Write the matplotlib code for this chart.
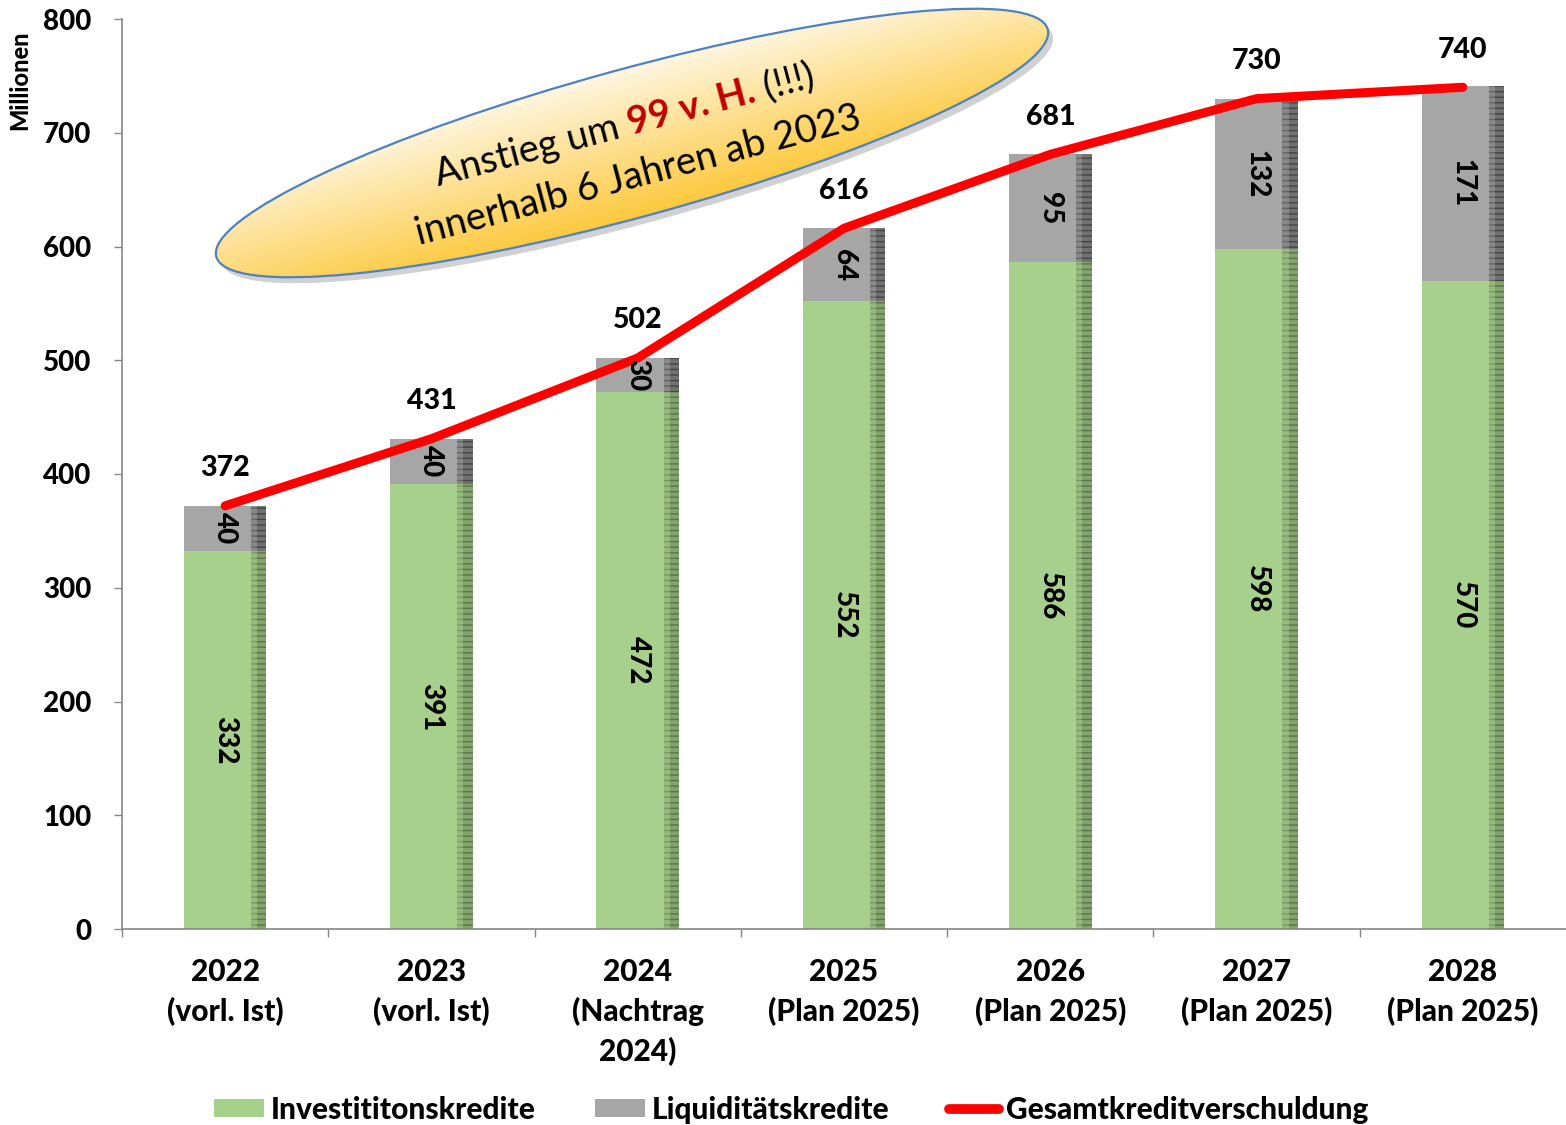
import numpy as np
from matplotlib import pyplot as plt
from matplotlib.patches import Ellipse, Patch
from matplotlib.lines import Line2D

# data (Millionen)
years = ["2022\n(vorl. Ist)", "2023\n(vorl. Ist)", "2024\n(Nachtrag\n2024)", "2025\n(Plan 2025)",
         "2026\n(Plan 2025)", "2027\n(Plan 2025)", "2028\n(Plan 2025)"]
invest = [332, 391, 472, 552, 586, 598, 570]
liquid = [40, 40, 30, 64, 95, 132, 171]
total = [372, 431, 502, 616, 681, 730, 740]

FONT = "Lato"
WGT = "black"
plt.rcParams["font.family"] = [FONT, "DejaVu Sans"]
plt.rcParams["font.weight"] = WGT

GREEN = "#a8d08d"
GREEN_DARK = "#6f8a5c"
GREY = "#a6a6a6"
GREY_DARK = "#5e5e5e"
RED = "#ff0000"

W, H = 1566, 1125
fig = plt.figure(figsize=(W / 100, H / 100), dpi=100)
ax = fig.add_axes([122 / W, 1 - 929 / H, 1 - 122 / W, (929 - 19) / H])

x = np.arange(len(years))
bw = 0.4
ax.bar(x, invest, width=bw, color=GREEN, zorder=2)
ax.bar(x, liquid, width=bw, bottom=invest, color=GREY, zorder=2)

# darker shaded strip at the right edge of each bar (two layers -> rough gradient)
for sw, al in [(0.075, 0.3), (0.045, 0.45)]:
    ax.bar(x + bw / 2 - sw / 2, invest, width=sw, color=GREEN_DARK, alpha=al,
           hatch="---", edgecolor="#3f4f35", linewidth=0, zorder=3)
    ax.bar(x + bw / 2 - sw / 2, liquid, width=sw, bottom=invest, color=GREY_DARK, alpha=al + 0.1,
           hatch="---", edgecolor="#303030", linewidth=0, zorder=3)

ax.plot(x, total, color=RED, lw=6.5, solid_capstyle="round", solid_joinstyle="round", zorder=5)

for i in range(len(x)):
    ax.text(x[i], invest[i] / 2, str(invest[i]), rotation=270, ha="center", va="center",
            fontsize=20, fontweight=WGT, zorder=6)
    ax.text(x[i], invest[i] + liquid[i] / 2, str(liquid[i]), rotation=270, ha="center",
            va="center", fontsize=20, fontweight=WGT, zorder=6)
    ax.annotate(str(total[i]), (x[i], total[i]), xytext=(0, 27), textcoords="offset points",
                ha="center", va="center", fontsize=20.5, fontweight=WGT)

ax.set_xlim(-0.5, 6.5)
ax.set_ylim(0, 800)
ax.set_yticks(range(0, 801, 100))
ax.set_xticks(x)
ax.set_xticklabels(years, fontsize=21.5, fontweight=WGT, linespacing=1.45)
ax.set_xticks(np.arange(-0.5, 6.0, 1.0), minor=True)
ax.tick_params(axis="x", which="major", length=0, pad=21)
ax.tick_params(axis="x", which="minor", length=6, width=1, color="#868686")
ax.tick_params(axis="y", length=6, width=1, color="#868686", pad=16, labelsize=20)
for lab in ax.get_yticklabels():
    lab.set_fontweight(WGT)
for side in ["top", "right"]:
    ax.spines[side].set_visible(False)
for side in ["left", "bottom"]:
    ax.spines[side].set_color("#868686")
    ax.spines[side].set_linewidth(1.2)

fig.text(20 / W, 1 - 80 / H, "Millionen", rotation=90, ha="center", va="center",
         fontsize=17, fontweight=WGT)

# legend
handles = [Patch(facecolor=GREEN, edgecolor="none"),
           Patch(facecolor=GREY, edgecolor="none"),
           Line2D([0], [0], color=RED, lw=7, solid_capstyle="round")]
labels = ["Investititonskredite", "Liquiditätskredite", "Gesamtkreditverschuldung"]
fig.legend(handles, labels, loc="center", bbox_to_anchor=(791 / W, 1 - 1110 / H), ncol=3,
           frameon=False, prop={"family": FONT, "weight": WGT, "size": 21.5},
           handlelength=1.67, handleheight=0.55, handletextpad=0.23, columnspacing=2.0)

# callout ellipse, drawn in pixel coordinates on an overlay
ov = fig.add_axes([0, 0, 1, 1], zorder=10)
ov.set_xlim(0, W)
ov.set_ylim(H, 0)
ov.axis("off")

cx, cy, a, b, ang = 632, 143, 431, 74, 15.3
shadow = Ellipse((cx + 5, cy + 6), 2 * a, 2 * b, angle=-ang, facecolor="#000000",
                 alpha=0.18, edgecolor="none")
ov.add_patch(shadow)
ell = Ellipse((cx, cy), 2 * a, 2 * b, angle=-ang, facecolor="none", edgecolor="#4f81bd", lw=1.6,
              zorder=3)
ov.add_patch(ell)

x0, x1, y0, y1 = cx - a - 5, cx + a + 5, cy - 150, cy + 150
gx, gy = np.meshgrid(np.linspace(x0, x1, 400), np.linspace(y0, y1, 200))
t = np.radians(ang)
perp = (gx - cx) * np.sin(t) + (gy - cy) * np.cos(t)
tt = np.clip((perp + b) / (2 * b), 0, 1)
c_top = np.array([254, 246, 225]) / 255
c_bot = np.array([252, 200, 60]) / 255
grad = c_top[None, None, :] * (1 - tt[..., None]) + c_bot[None, None, :] * tt[..., None]
im = ov.imshow(grad, extent=(x0, x1, y1, y0), origin="upper", aspect="auto", zorder=2)
im.set_clip_path(ell)
ov.set_xlim(0, W)
ov.set_ylim(H, 0)

# text inside the callout
fig.canvas.draw()
rend = fig.canvas.get_renderer()
rot = 14.8
tr = np.radians(rot)
dirv = np.array([np.cos(tr), -np.sin(tr)])
pieces = [("Anstieg um ", "normal", "black"), ("99 v. H.", "bold", "#c00000"), (" (!!!)", "normal", "black")]
widths = []
for s, wgt, col in pieces:
    tmp = ov.text(0, 0, s, fontsize=27.5, fontweight=wgt)
    widths.append(tmp.get_window_extent(rend).width)
    tmp.remove()
start = np.array([627, 136]) - dirv * sum(widths) / 2
off = 0
for (s, wgt, col), wd in zip(pieces, widths):
    p = start + dirv * off
    ov.text(p[0], p[1], s, fontsize=27.5, fontweight=wgt, color=col, rotation=rot,
            rotation_mode="anchor", ha="left", va="baseline", zorder=4)
    off += wd
ov.text(641, 186, "innerhalb 6 Jahren ab 2023", fontsize=27.5, fontweight="normal", rotation=rot,
        rotation_mode="anchor", ha="center", va="baseline", zorder=4)

fig.savefig("out.png", dpi=100)
